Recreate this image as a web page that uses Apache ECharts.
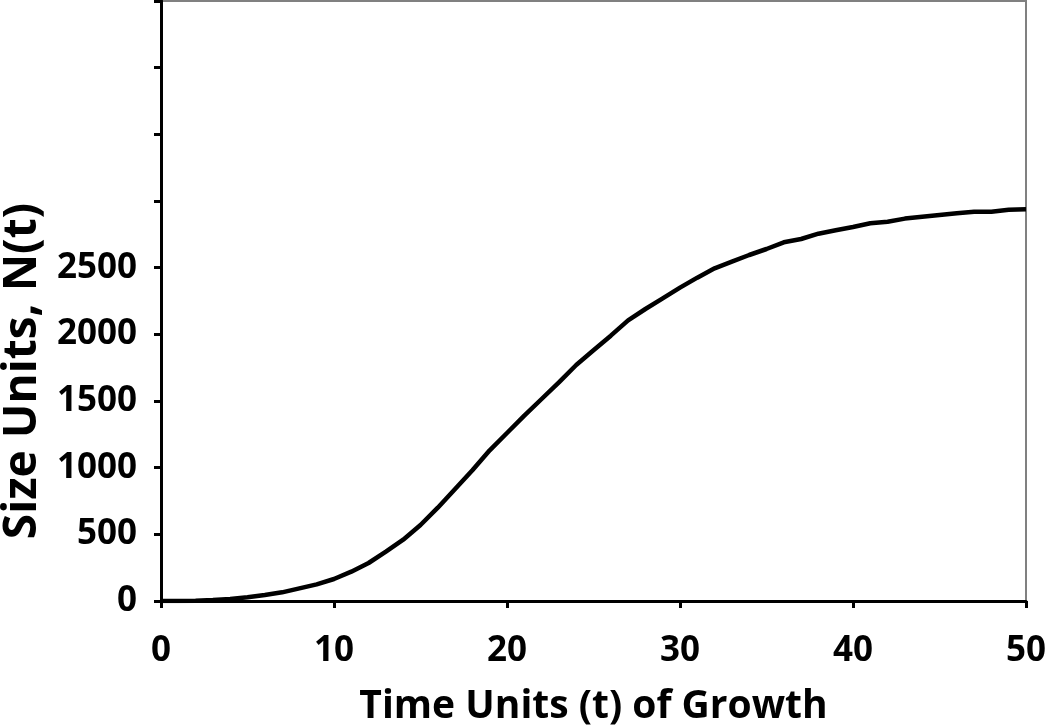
<!DOCTYPE html>
<html>
<head>
<meta charset="utf-8">
<script src="https://cdn.jsdelivr.net/npm/echarts@6/dist/echarts.min.js"></script>
<style>
  html, body { margin: 0; padding: 0; background: #fff; }
  #chart { width: 1050px; height: 726px; }
</style>
</head>
<body>
<div id="chart"></div>
<script>
// time steps 0..50
const timeUnits = [0,1,2,3,4,5,6,7,8,9,10,11,12,13,14,15,16,17,18,19,20,21,22,23,24,25,
  26,27,28,29,30,31,32,33,34,35,36,37,38,39,40,41,42,43,44,45,46,47,48,49,50];
// size N(t)
const sizeUnits = [0,0,2,8,15,28,45,65,95,125,165,220,285,370,460,570,700,840,980,1130,1260,
  1390,1515,1640,1770,1880,1990,2105,2190,2270,2350,2425,2495,2545,2595,2640,2690,2715,2755,
  2780,2805,2833,2845,2868,2882,2895,2908,2920,2920,2935,2938];
const lastLabeled = 2500;

const chart = echarts.init(document.getElementById('chart'));

const labelFont = {
  fontFamily: 'Open Sans',
  fontWeight: 'bold',
  color: '#000'
};

chart.setOption({
  animation: false,
  grid: {
    left: 161, right: 24, top: 1, bottom: 125,
    outerBoundsMode: 'none',
    containLabel: false,
    show: true,
    borderColor: '#808080',
    borderWidth: 2
  },
  xAxis: {
    type: 'value',
    min: 0, max: 50, interval: 10,
    name: 'Time Units (t) of Growth',
    nameLocation: 'middle',
    nameGap: 86,
    nameTextStyle: { ...labelFont, fontSize: 39 },
    axisLine: { lineStyle: { color: '#000', width: 3 } },
    axisTick: { show: true, length: 7, lineStyle: { color: '#000', width: 3 } },
    axisLabel: { ...labelFont, fontSize: 35, margin: 33 },
    splitLine: { show: false }
  },
  yAxis: {
    type: 'value',
    min: 0, max: 4500, interval: 500,
    name: 'Size Units, N(t)',
    nameLocation: 'middle',
    nameGap: 109,
    // pushes the title down so it sits beside the labelled part of the axis
    nameTextStyle: { ...labelFont, fontSize: 46, padding: [0, 140, 0, 0] },
    axisLine: { show: true, lineStyle: { color: '#000', width: 3 } },
    axisTick: { show: true, length: 7, lineStyle: { color: '#000', width: 3 } },
    axisLabel: {
      ...labelFont, fontSize: 35, margin: 24,
      formatter: (v) => (v <= lastLabeled ? String(v) : '')
    },
    splitLine: { show: false }
  },
  series: [{
    type: 'line',
    data: timeUnits.map((t, i) => [t, sizeUnits[i]]),
    showSymbol: false,
    smooth: false,
    lineStyle: { color: '#000', width: 4.5 }
  }]
});
</script>
</body>
</html>
